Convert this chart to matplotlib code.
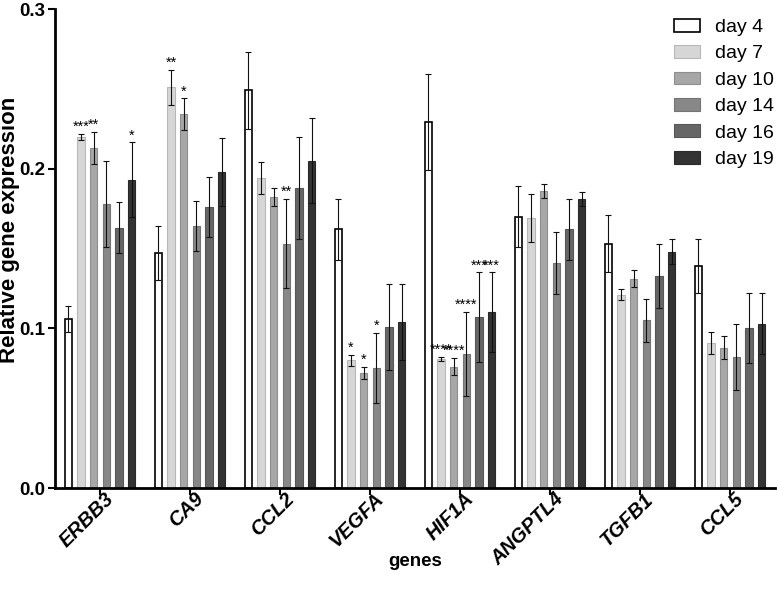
import matplotlib
matplotlib.use("Agg")
import matplotlib.pyplot as plt
import numpy as np

plt.rcParams["font.family"] = ["Liberation Sans", "DejaVu Sans"]

genes = ["ERBB3", "CA9", "CCL2", "VEGFA", "HIF1A", "ANGPTL4", "TGFB1", "CCL5"]
days = ["day 4", "day 7", "day 10", "day 14", "day 16", "day 19"]

day4 = [0.106, 0.147, 0.249, 0.162, 0.229, 0.170, 0.153, 0.139]
day7 = [0.220, 0.251, 0.194, 0.080, 0.081, 0.169, 0.121, 0.091]
day10 = [0.213, 0.234, 0.182, 0.072, 0.076, 0.186, 0.131, 0.088]
day14 = [0.178, 0.164, 0.153, 0.075, 0.084, 0.141, 0.105, 0.082]
day16 = [0.163, 0.176, 0.188, 0.101, 0.107, 0.162, 0.133, 0.100]
day19 = [0.193, 0.198, 0.205, 0.104, 0.110, 0.181, 0.148, 0.103]

err4 = [0.008, 0.017, 0.024, 0.019, 0.030, 0.019, 0.018, 0.017]
err7 = [0.002, 0.011, 0.010, 0.0035, 0.0013, 0.015, 0.0035, 0.007]
err10 = [0.010, 0.010, 0.0056, 0.0038, 0.0054, 0.0046, 0.0054, 0.007]
err14 = [0.027, 0.0155, 0.028, 0.022, 0.0265, 0.0196, 0.0134, 0.0205]
err16 = [0.016, 0.019, 0.032, 0.027, 0.028, 0.019, 0.020, 0.022]
err19 = [0.0235, 0.0215, 0.0265, 0.0236, 0.025, 0.0045, 0.008, 0.019]

stars4 = ["", "", "", "", "", "", "", ""]
stars7 = ["***", "**", "", "*", "****", "", "", ""]
stars10 = ["**", "*", "", "*", "****", "", "", ""]
stars14 = ["", "", "**", "*", "****", "", "", ""]
stars16 = ["", "", "", "", "***", "", "", ""]
stars19 = ["*", "", "", "", "***", "", "", ""]

values = [day4, day7, day10, day14, day16, day19]
errors = [err4, err7, err10, err14, err16, err19]
stars = [stars4, stars7, stars10, stars14, stars16, stars19]

fills = ["#ffffff", "#d6d6d6", "#a7a7a7", "#888888", "#666666", "#333333"]
edges = ["#000000", "#b8b8b8", "#8e8e8e", "#747474", "#575757", "#2a2a2a"]

fig = plt.figure(figsize=(7.77, 6.01), dpi=100)
ax = fig.add_axes([0.0708, 0.188, 0.9266, 0.797])

x = np.arange(len(genes))
step = 0.141
width = 0.083
for i, (vals, errs, st) in enumerate(zip(values, errors, stars)):
    pos = x + (i - 2.5) * step
    ax.bar(pos, vals, width=width, color=fills[i], edgecolor=edges[i],
           linewidth=1.2 if i == 0 else 0.8, label=days[i], zorder=2)
    ax.errorbar(pos, vals, yerr=errs, fmt="none", ecolor="#111111",
                elinewidth=0.8, capsize=2, capthick=0.8, zorder=3)
    for p, v, e, s in zip(pos, vals, errs, st):
        if s:
            ax.annotate(s, (p, v + e), xytext=(0, 0), textcoords="offset points",
                        ha="center", va="bottom", fontsize=10.5)

ax.set_xlim(-0.5, len(genes) - 0.5)
ax.set_ylim(0, 0.3)
ax.set_yticks([0.0, 0.1, 0.2, 0.3])
ax.set_yticklabels(["0.0", "0.1", "0.2", "0.3"], fontsize=13.5, fontweight="bold")
# major ticks mark the groups; labels sit on (invisible) minor ticks just to the right
ax.set_xticks(x)
ax.set_xticklabels([])
ax.set_xticks(x + 0.045, minor=True)
ax.set_xticklabels(genes, minor=True, rotation=45, ha="right", rotation_mode="anchor",
                   fontsize=14.5, fontweight="bold", fontstyle="italic")
for sp in ["top", "right"]:
    ax.spines[sp].set_visible(False)
for sp in ["left", "bottom"]:
    ax.spines[sp].set_linewidth(2)
ax.tick_params(axis="both", which="major", direction="out", width=1.5, length=5, pad=2)
ax.tick_params(axis="x", which="minor", length=0, pad=1)
ax.set_ylabel("Relative gene expression", fontsize=16, fontweight="bold")
ax.yaxis.set_label_coords(-0.048, 0.539)
ax.set_xlabel("genes", fontsize=13.5, fontweight="bold")
ax.xaxis.set_label_coords(0.5, -0.136)

leg = ax.legend(loc="upper left", bbox_to_anchor=(0.857, 0.982),
                bbox_transform=fig.transFigure, borderaxespad=0, frameon=False,
                fontsize=14, handlelength=1.35, handleheight=0.65,
                labelspacing=0.47, handletextpad=0.8)

fig.savefig("out.png", dpi=100)
